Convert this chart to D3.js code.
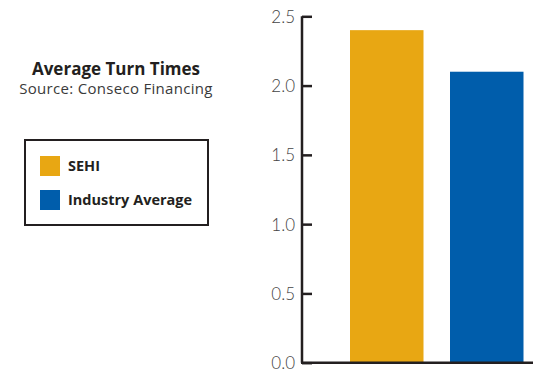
<!DOCTYPE html>
<html>
<head>
<meta charset="utf-8">
<title>Average Turn Times</title>
<script src="https://cdn.jsdelivr.net/npm/d3@7"></script>
<style>
  * { margin: 0; padding: 0; }
  body { background: #fff; font-family: "Open Sans", "Noto Sans", sans-serif; }
</style>
</head>
<body>
<div id="chart"></div>
<script>
// data
var categories = ["SEHI", "Industry Average"];
var values = [2.4, 2.1];
var colors = ["#e8a713", "#005dab"];
var yTicks = [0, 0.5, 1.0, 1.5, 2.0, 2.5];

var W = 533, H = 374;
var svg = d3.select("#chart").append("svg").attr("width", W).attr("height", H);

// x: first bar starts ~350, step 100
var x = d3.scaleBand().domain(categories).range([325, 548.5]).paddingInner(0.265).paddingOuter(0.25);
var y = d3.scaleLinear().domain([0, 2.5]).range([362.7, 16.3]);

// bars
svg.selectAll("rect.bar").data(categories).enter().append("rect")
   .attr("class", "bar")
   .attr("x", function(d){ return x(d); })
   .attr("width", x.bandwidth())
   .attr("y", function(d, i){ return y(values[i]); })
   .attr("height", function(d, i){ return y(0) - y(values[i]); })
   .attr("fill", function(d, i){ return colors[i]; });

// y axis
var yAxis = d3.axisRight(y).tickValues(yTicks).tickSize(10).tickFormat(d3.format(".1f"));
var gy = svg.append("g").attr("transform", "translate(302,0)").call(yAxis);
gy.select(".domain").attr("stroke", "#231f20").attr("stroke-width", 2.5)
  .attr("d", "M0," + y(2.5) + "V" + y(0));
gy.selectAll(".tick line").attr("stroke", "#231f20").attr("stroke-width", 2.5);
gy.selectAll(".tick text").attr("x", -7).attr("text-anchor", "end").attr("dy", "0.35em")
  .attr("fill", "#444").style("font-size", "17px").style("font-family", "Lato, sans-serif")
  .style("font-weight", 300);

// x axis baseline
svg.append("line").attr("x1", 301).attr("x2", W).attr("y1", y(0)).attr("y2", y(0))
   .attr("stroke", "#231f20").attr("stroke-width", 2.5);

// title
svg.append("text").attr("x", 116).attr("y", 75).attr("text-anchor", "middle")
   .style("font-size", "17px").style("font-weight", 700).attr("fill", "#231f20")
   .text("Average Turn Times");
svg.append("text").attr("x", 116).attr("y", 94).attr("text-anchor", "middle")
   .style("font-size", "15px").style("font-weight", 400).style("letter-spacing", "0.3px")
   .attr("fill", "#3a3a3a")
   .text("Source: Conseco Financing");

// legend
var lg = svg.append("g");
lg.append("rect").attr("x", 25).attr("y", 140).attr("width", 183).attr("height", 85)
  .attr("fill", "none").attr("stroke", "#231f20").attr("stroke-width", 2);
categories.forEach(function(c, i){
  lg.append("rect").attr("x", 40).attr("y", 156 + i * 34).attr("width", 20).attr("height", 20)
    .attr("fill", colors[i]);
  lg.append("text").attr("x", 68).attr("y", 171 + i * 34)
    .style("font-size", "14.5px").style("font-weight", 700).attr("fill", "#231f20").text(c);
});
</script>
</body>
</html>
